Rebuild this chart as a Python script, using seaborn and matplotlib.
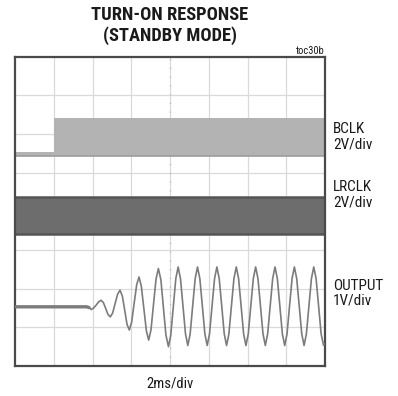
import matplotlib
matplotlib.use("Agg")
import matplotlib.pyplot as plt
import seaborn as sns
import pandas as pd

# ---- data (in scope divisions, 8 x 8 grid) ----
bclk_t = [0.0, 1.0, 8.0]
bclk_low = [5.42, 5.42, 5.42]
bclk_high = [5.52, 6.40, 6.40]

lrclk_t = [0.0, 8.0]
lrclk_low = [3.42, 3.42]
lrclk_high = [4.37, 4.37]

# OUTPUT trace (time div, level div)
out_t = [0.00, 1.85, 1.91, 1.97,
         2.03, 2.10, 2.16, 2.22, 2.28, 2.34, 2.40, 2.46,
         2.52, 2.585, 2.65, 2.71, 2.77, 2.83, 2.89, 2.95,
         3.01, 3.075, 3.14, 3.20, 3.26, 3.325, 3.39, 3.45,
         3.51, 3.575, 3.64, 3.70, 3.765, 3.83, 3.895, 3.96,
         4.02, 4.085, 4.15, 4.21, 4.27, 4.335, 4.40, 4.46,
         4.52, 4.585, 4.65, 4.71, 4.77, 4.835, 4.90, 4.96,
         5.02, 5.085, 5.15, 5.21, 5.27, 5.335, 5.40, 5.46,
         5.52, 5.585, 5.65, 5.71, 5.77, 5.835, 5.90, 5.96,
         6.02, 6.085, 6.15, 6.21, 6.27, 6.335, 6.40, 6.46,
         6.52, 6.585, 6.65, 6.71, 6.77, 6.835, 6.90, 6.96,
         7.02, 7.085, 7.15, 7.21, 7.27, 7.335, 7.40, 7.46,
         7.52, 7.585, 7.65, 7.71, 7.77, 7.835, 7.90, 7.96,
         8.00]
out_v = [1.53, 1.53, 1.51, 1.46,
         1.50, 1.58, 1.66, 1.70, 1.64, 1.49, 1.33, 1.27,
         1.37, 1.62, 1.86, 1.96, 1.81, 1.45, 1.08, 0.93,
         1.13, 1.62, 2.10, 2.30, 2.06, 1.49, 0.91, 0.67,
         0.94, 1.60, 2.25, 2.52, 2.23, 1.51, 0.80, 0.50,
         0.80, 1.53, 2.26, 2.56, 2.26, 1.55, 0.83, 0.53,
         0.83, 1.55, 2.26, 2.56, 2.26, 1.55, 0.83, 0.53,
         0.83, 1.55, 2.26, 2.56, 2.26, 1.55, 0.83, 0.53,
         0.83, 1.55, 2.26, 2.56, 2.26, 1.55, 0.83, 0.53,
         0.83, 1.55, 2.26, 2.56, 2.26, 1.55, 0.83, 0.53,
         0.83, 1.55, 2.26, 2.56, 2.26, 1.55, 0.83, 0.53,
         0.83, 1.55, 2.26, 2.56, 2.26, 1.55, 0.83, 0.53,
         0.83, 1.55, 2.26, 2.56, 2.26, 1.55, 0.83, 0.54,
         0.58]

channel_labels = ["BCLK\n2V/div", "LRCLK\n2V/div", "OUTPUT\n1V/div"]
channel_label_y = [5.92, 4.42, 1.88]
title = "TURN-ON RESPONSE\n(STANDBY MODE)"
x_label = "2ms/div"
tag = "toc30b"

sns.set_style("white")
FONT = ["Roboto Condensed", "Liberation Sans Narrow", "Liberation Sans", "DejaVu Sans"]
plt.rcParams["font.family"] = FONT

fig = plt.figure(figsize=(3.98, 3.96), dpi=100)
ax = fig.add_axes([15 / 398, 30 / 396, 310 / 398, 309.5 / 396])
ax.set_xlim(0, 8)
ax.set_ylim(0, 8)

# grid
for g in range(1, 8):
    ax.axvline(g, color="#dadada", lw=0.9, zorder=0)
    ax.axhline(g, color="#dadada", lw=0.9, zorder=0)
ax.axvline(4, color="#b8b8b8", lw=0.9, ls=(0, (1, 6)), zorder=0.5)

# BCLK band
ax.fill_between(bclk_t, bclk_low, bclk_high, step="post", color="#b3b3b3",
                lw=0, zorder=2)
ax.plot(bclk_t, bclk_low, drawstyle="steps-post", color="#9c9c9c", lw=1.2, zorder=2.1)

# LRCLK band
ax.fill_between(lrclk_t, lrclk_low, lrclk_high, color="#6d6d6d", lw=0, zorder=2)
ax.plot(lrclk_t, lrclk_low, color="#555555", lw=1.8, zorder=2.1)
ax.plot(lrclk_t, lrclk_high, color="#555555", lw=1.8, zorder=2.1)

# OUTPUT trace
df = pd.DataFrame({"t": out_t, "v": out_v})
sns.lineplot(data=df, x="t", y="v", ax=ax, color="#7c7c7c", lw=1.2,
             estimator=None, sort=False, zorder=3)
sns.lineplot(data=df.iloc[:3], x="t", y="v", ax=ax, color="#7c7c7c", lw=2.4,
             estimator=None, sort=False, zorder=3)

ax.set_xticks([])
ax.set_yticks([])
ax.set_xlabel("")
ax.set_ylabel("")
for s in ax.spines.values():
    s.set_color("#4a4a4a")
    s.set_linewidth(1.6)

for lab, y in zip(channel_labels, channel_label_y):
    ax.text(8.2, y, lab, ha="left", va="center", fontsize=11,
            linespacing=1.12, color="#1a1a1a", clip_on=False)

ax.text(0.5, -0.058, x_label, transform=ax.transAxes, ha="center", va="center",
        fontsize=10.5, color="#1a1a1a")
ax.text(1.0, 1.017, tag, transform=ax.transAxes, ha="right", va="center",
        fontsize=7.5, color="#1a1a1a")
fig.text(170 / 398, 1 - 25.5 / 396, title, ha="center", va="center",
         fontsize=13.3, fontweight="bold", linespacing=1.15, color="#1a1a1a")

fig.savefig("out.png", dpi=100)
